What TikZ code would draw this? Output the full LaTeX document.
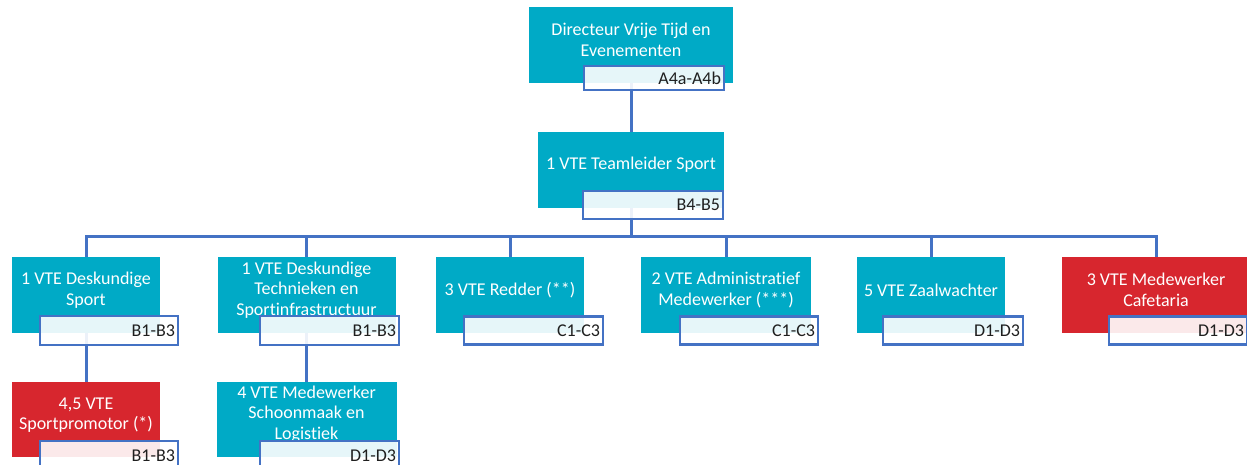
\documentclass[tikz,border=0pt]{standalone}
\usepackage{fontspec}
\setmainfont{Carlito}[Ligatures=NoCommon]
\usetikzlibrary{backgrounds}
\definecolor{teal1}{RGB}{0,170,198}
\definecolor{red1}{RGB}{215,38,46}
\definecolor{blu}{RGB}{68,114,196}
\tikzset{
 box/.style={rectangle, draw=none, inner sep=0pt},
 tbox/.style={box, fill=teal1},
 rbox/.style={box, fill=red1},
 txt/.style={text=white, font=\fontsize{18bp}{20.5bp}\selectfont, align=center, inner sep=0pt},
 lbl/.style={rectangle, draw=blu, line width=2.8bp, fill=white, fill opacity=0.9, text opacity=1,
   text=black!88, font=\fontsize{18bp}{20bp}\selectfont, inner ysep=0pt, inner xsep=3bp, text width=#1, align=right},
 conn/.style={draw=blu, line width=3bp}
}
\begin{document}
\begin{tikzpicture}[x=1bp,y=-1bp]
\useasboundingbox (0,0) rectangle (1247,465);
% top
\node[tbox, minimum width=204bp, minimum height=76bp] (dir) at (631,45) {};
\node[txt] (dirT) at (631,40) {Directeur Vrije Tijd en\\Evenementen};
\node[lbl=134bp, minimum height=24bp] (dirL) at (654,78) {A4a-A4b};
% teamleider
\node[tbox, minimum width=186bp, minimum height=76bp] (tl) at (631,170) {};
\node[txt] (tlT) at (631,165) {1 VTE Teamleider Sport};
\node[lbl=134bp, minimum height=28bp] (tlL) at (653,205) {B4-B5};
% row 3
\node[tbox, minimum width=148bp, minimum height=76bp] (a) at (86,295) {};
\node[txt] (aT) at (86,290) {1 VTE Deskundige\\Sport};
\node[lbl=132bp, minimum height=29bp] (aL) at (109,330.5) {B1-B3};

\node[tbox, minimum width=178bp, minimum height=76bp] (b) at (306.5,295) {};
\node[txt] (bT) at (306.5,290) {1 VTE Deskundige\\Technieken en\\Sportinfrastructuur};
\node[lbl=133bp, minimum height=29bp] (bL) at (329.5,330.5) {B1-B3};

\node[tbox, minimum width=148bp, minimum height=76bp] (c) at (510,295) {};
\node[txt] (cT) at (510,290) {3 VTE Redder (**)};
\node[lbl=133bp, minimum height=28bp] (cL) at (533.5,330.5) {C1-C3};

\node[tbox, minimum width=170bp, minimum height=76bp] (d) at (726,295) {};
\node[txt] (dT) at (726,290) {2 VTE Administratief\\Medewerker (***)};
\node[lbl=132bp, minimum height=28bp] (dL) at (749,330.5) {C1-C3};

\node[tbox, minimum width=148bp, minimum height=76bp] (e) at (931,295) {};
\node[txt] (eT) at (931,290) {5 VTE Zaalwachter};
\node[lbl=134bp, minimum height=28bp] (eL) at (953,330.5) {D1-D3};

\node[rbox, minimum width=188bp, minimum height=76bp] (f) at (1156,295) {};
\node[txt] (fT) at (1156,290) {3 VTE Medewerker\\Cafetaria};
\node[lbl=132bp, minimum height=28bp] (fL) at (1178,330.5) {D1-D3};
% row 4
\node[rbox, minimum width=148bp, minimum height=75bp] (g) at (86,419.5) {};
\node[txt] (gT) at (86,415) {4,5 VTE\\Sportpromotor (*)};
\node[lbl=132bp, minimum height=29bp] (gL) at (109,455.5) {B1-B3};

\node[tbox, minimum width=180bp, minimum height=75bp] (h) at (306.5,419.5) {};
\node[txt] (hT) at (306.5,414) {4 VTE Medewerker\\Schoonmaak en\\Logistiek};
\node[lbl=133bp, minimum height=29bp] (hL) at (329.5,455.5) {D1-D3};
% connectors
\coordinate (bus) at (631,237);
\begin{scope}[on background layer]
\draw[conn] (dir.south) -- (tl.north);
\foreach \n in {a,b,c,d,e,f}{
  \draw[conn] (tl.south) -- (bus) -| (\n.north);
}
\draw[conn] (a.south) -- (g.north);
\draw[conn] (b.south) -- (h.north);
\end{scope}
\end{tikzpicture}
\end{document}
